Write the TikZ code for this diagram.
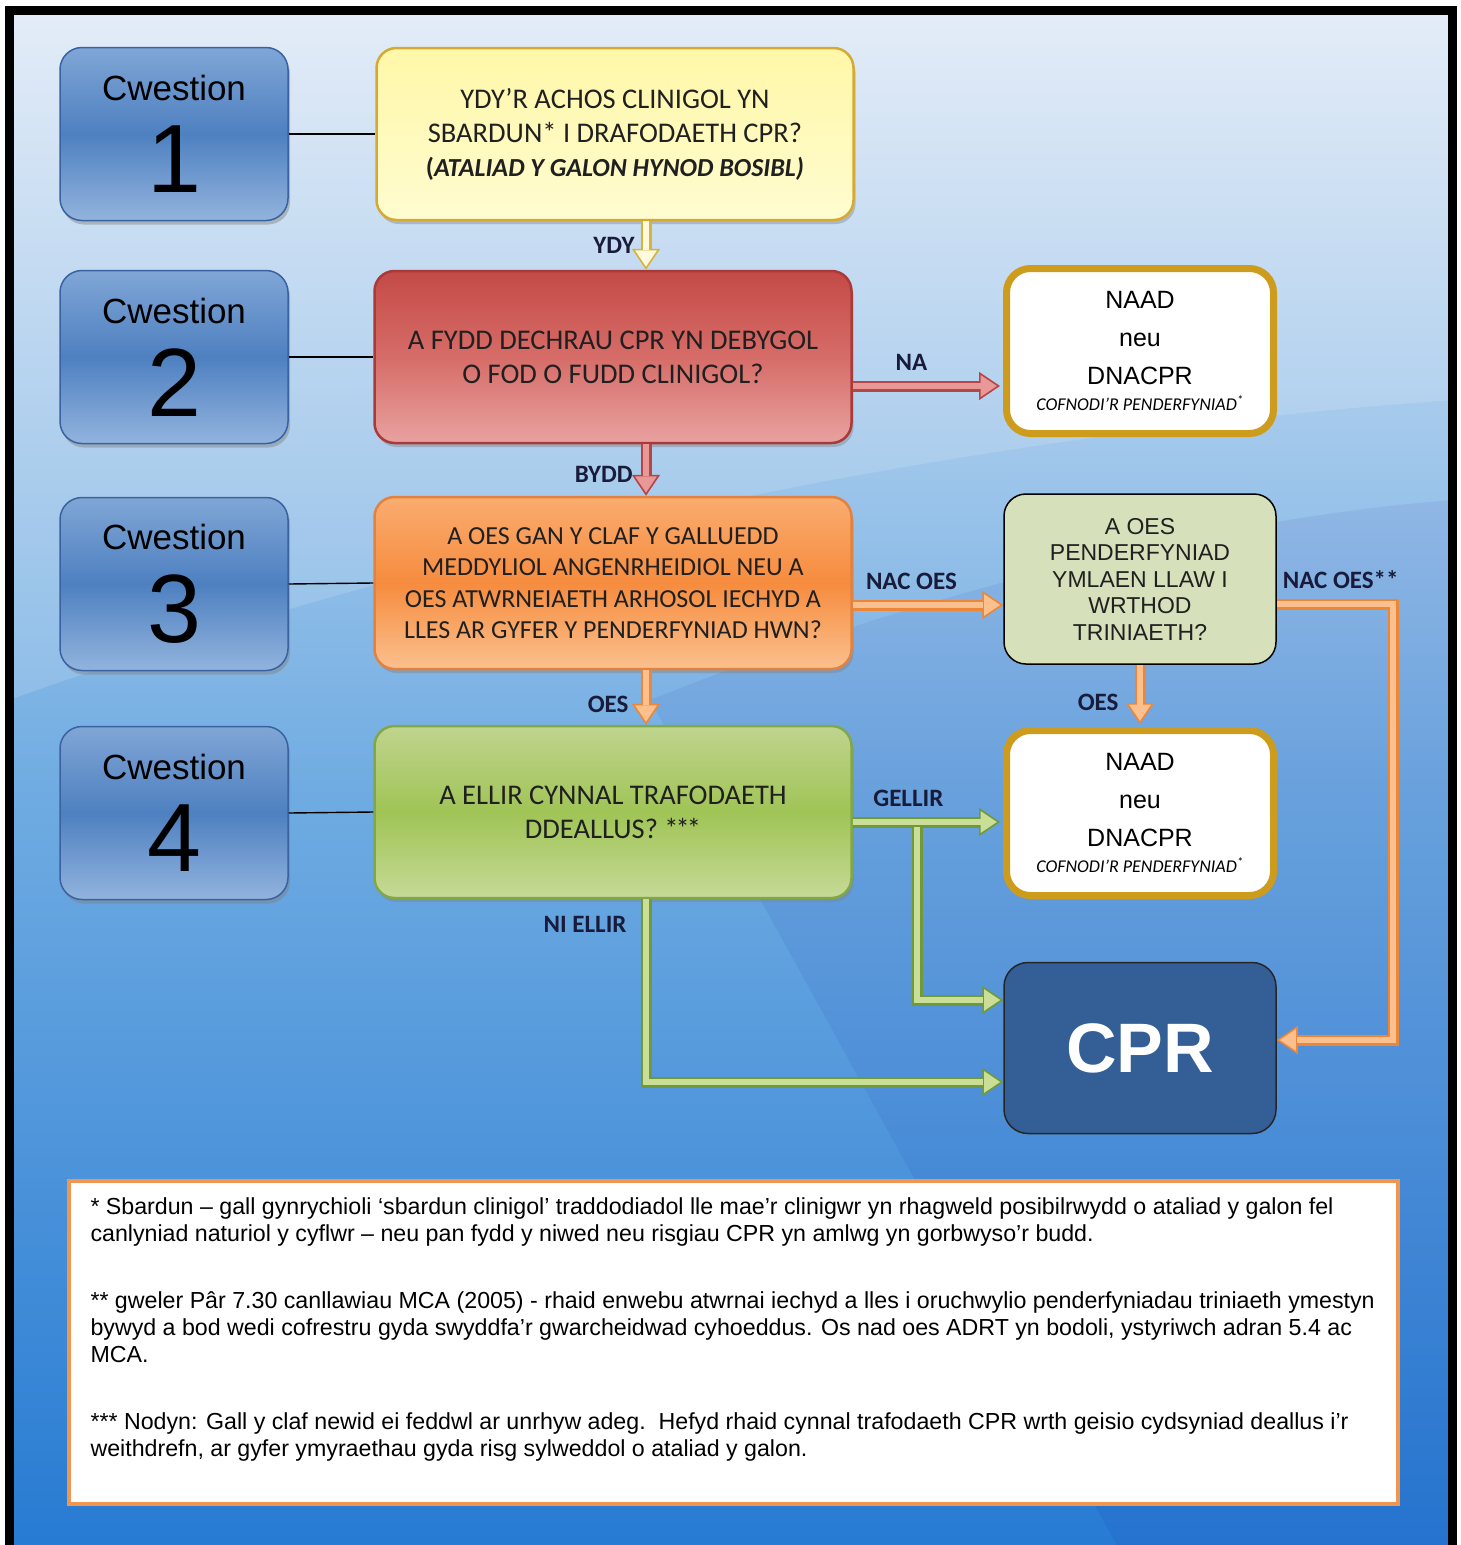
\documentclass[tikz,border=0pt]{standalone}
\usepackage{fontspec}
\setmainfont{Liberation Sans}
\newfontfamily\calfont{Carlito}
\usetikzlibrary{arrows.meta,shadows}

\definecolor{bgtop}{RGB}{224,234,247}
\definecolor{bgmid}{RGB}{112,172,226}
\definecolor{bgbot}{RGB}{38,122,210}
\definecolor{cwtop}{RGB}{128,166,214}
\definecolor{cwmid}{RGB}{78,128,192}
\definecolor{cwbot}{RGB}{146,180,222}
\definecolor{cwedge}{RGB}{58,98,160}
\definecolor{yeltop}{RGB}{255,247,168}
\definecolor{yelbot}{RGB}{255,252,208}
\definecolor{yeledge}{RGB}{214,170,50}
\definecolor{redtop}{RGB}{196,74,70}
\definecolor{redmid}{RGB}{214,108,104}
\definecolor{redbot}{RGB}{232,162,160}
\definecolor{rededge}{RGB}{170,58,58}
\definecolor{ortop}{RGB}{250,172,112}
\definecolor{ormid}{RGB}{246,140,62}
\definecolor{orbot}{RGB}{251,192,142}
\definecolor{oredge}{RGB}{226,130,62}
\definecolor{grtop}{RGB}{192,212,142}
\definecolor{grmid}{RGB}{160,196,86}
\definecolor{grbot}{RGB}{198,218,150}
\definecolor{gredge}{RGB}{128,168,70}
\definecolor{pendfill}{RGB}{214,224,186}
\definecolor{naadgold}{RGB}{206,156,28}
\definecolor{cprfill}{RGB}{52,94,150}
\definecolor{lblcol}{RGB}{24,28,58}
\definecolor{txtcol}{RGB}{32,32,32}
\definecolor{ydyline}{RGB}{214,180,56}
\definecolor{ydyfill}{RGB}{255,250,222}
\definecolor{redline}{RGB}{180,70,70}
\definecolor{redfill}{RGB}{232,152,150}
\definecolor{orline}{RGB}{236,134,56}
\definecolor{orfill}{RGB}{251,192,142}
\definecolor{grline}{RGB}{112,154,56}
\definecolor{grfill}{RGB}{202,222,152}
\definecolor{noteedge}{RGB}{240,150,80}

\begin{document}
\begin{tikzpicture}[x=1pt, y=-1pt, line width=1pt]
\tikzset{
	cwbox/.style={draw=cwedge, line width=1.5pt, rounded corners=22pt, minimum width=228pt, minimum height=173pt, align=center, top color=cwtop, bottom color=cwbot, middle color=cwmid, drop shadow={shadow xshift=2pt, shadow yshift=-4pt, opacity=0.45}},
	qbox/.style={line width=2.5pt, rounded corners=20pt, minimum width=477pt, minimum height=172pt, align=center, text=txtcol, font=\calfont\fontsize{28.5}{34}\selectfont, drop shadow={shadow xshift=2pt, shadow yshift=-4pt, opacity=0.4}},
	naadbox/.style={draw=naadgold, line width=7pt, fill=white, rounded corners=24pt, minimum width=267pt, minimum height=165pt, align=center, font=\fontsize{25}{38}\selectfont},
	lbl/.style={font=\calfont\bfseries\fontsize{25}{28}\selectfont, text=lblcol, inner sep=2pt},
	qline/.style={line width=1.4pt, draw=black},
	fatarrow/.style 2 args={line width=11pt, draw=#1, -{Triangle[length=21pt, width=28pt, fill=#2, line width=1.6pt]}, postaction={draw=#2, line width=6.5pt, -, shorten >=20pt}}
}

% background and frame
\useasboundingbox (0,0) rectangle (1461,1545);
\shade[top color=bgtop, bottom color=bgbot, middle color=bgmid] (9,10) rectangle (1452,1560);
\fill[white, opacity=0.14] (9,10) -- (9,700) .. controls (400,560) and (900,440) .. (1452,400) -- (1452,10) -- cycle;
\fill[blue!60!black, opacity=0.06] (650,700) .. controls (900,600) and (1200,520) .. (1452,500) -- (1452,1560) -- (1125,1560) -- cycle;
\draw[line width=9pt] (9,10) rectangle (1452,1560);

% question column
\node[cwbox] (c1) at (174,134) {\fontsize{35}{40}\selectfont Cwestion\\[24pt]\fontsize{97}{93}\selectfont 1};
\node[cwbox] (c2) at (174,357) {\fontsize{35}{40}\selectfont Cwestion\\[24pt]\fontsize{97}{93}\selectfont 2};
\node[cwbox] (c3) at (174,584) {\fontsize{35}{40}\selectfont Cwestion\\[24pt]\fontsize{97}{93}\selectfont 3};
\node[cwbox] (c4) at (174,813) {\fontsize{35}{40}\selectfont Cwestion\\[24pt]\fontsize{97}{93}\selectfont 4};

% questions
\node[qbox, draw=yeledge, top color=yeltop, bottom color=yelbot] (q1) at (615,134)
{YDY’R ACHOS CLINIGOL YN\\
SBARDUN* I DRAFODAETH CPR?\\
{\fontsize{26}{34}\selectfont\textbf{(\textit{ATALIAD Y GALON HYNOD BOSIBL)}}}};

\node[qbox, draw=rededge, top color=redtop, bottom color=redbot, middle color=redmid] (q2) at (613,357)
{A FYDD DECHRAU CPR YN DEBYGOL\\
O FOD O FUDD CLINIGOL?};

\node[qbox, draw=oredge, top color=ortop, bottom color=orbot, middle color=ormid, font=\calfont\fontsize{26}{31.5}\selectfont] (q3) at (613,583)
{A OES GAN Y CLAF Y GALLUEDD\\
MEDDYLIOL ANGENRHEIDIOL NEU A\\
OES ATWRNEIAETH ARHOSOL IECHYD A\\
LLES AR GYFER Y PENDERFYNIAD HWN?};

\node[qbox, draw=gredge, top color=grtop, bottom color=grbot, middle color=grmid] (q4) at (613,812)
{A ELLIR CYNNAL TRAFODAETH\\
DDEALLUS? *\kern-3pt*\kern-3pt*};

% outcomes
\node[naadbox] (naad1) at (1140,351)
{NAAD\\neu\\DNACPR\\[-12pt]{\calfont\itshape\fontsize{18}{18}\selectfont COFNODI’R PENDERFYNIAD\textsuperscript{*}}};

\node[draw=black, line width=1.5pt, fill=pendfill, rounded corners=22pt, minimum width=272pt, minimum height=170pt, align=center, font=\fontsize{23}{26.5}\selectfont, text=txtcol] (pend) at (1140,579)
{A OES\\PENDERFYNIAD\\YMLAEN LLAW I\\WRTHOD\\TRINIAETH?};

\node[naadbox] (naad2) at (1140,813)
{NAAD\\neu\\DNACPR\\[-12pt]{\calfont\itshape\fontsize{18}{18}\selectfont COFNODI’R PENDERFYNIAD\textsuperscript{*}}};

\node[draw=black!85, line width=1.5pt, fill=cprfill, rounded corners=24pt, minimum width=272pt, minimum height=171pt, text=white, font=\bfseries\fontsize{70}{70}\selectfont] (cpr) at (1140,1048) {CPR};

% question links
\draw[qline] (c1.east) -- (q1.west);
\draw[qline] (c2.east) -- (q2.west);
\draw[qline] (c3.east) -- (q3.west);
\draw[qline] (c4.east) -- (q4.west);

% decision arrows
\draw[fatarrow={ydyline}{ydyfill}] ([xshift=31pt]q1.south) -- node[lbl, left=4pt] (lydy) {YDY} ([xshift=33pt]q2.north);
\draw[fatarrow={redline}{redfill}] ([xshift=33pt]q2.south) -- node[lbl, left=6pt, pos=0.58] (lbydd) {BYDD} ([xshift=33pt]q3.north);
\draw[fatarrow={redline}{redfill}, shorten >=3pt] ([yshift=-29pt]q2.east) -- node[lbl, above=8pt, pos=0.39] (lna) {NA} ([yshift=-29pt]q2.east -| naad1.west);
\draw[fatarrow={orline}{orfill}] ([xshift=33pt]q3.south) -- node[lbl, left=10pt, pos=0.62] (loes) {OES} ([xshift=33pt]q4.north);
\draw[fatarrow={orline}{orfill}] ([yshift=-22pt]q3.east) -- node[lbl, above=8pt, pos=0.39] (lnacoes) {NAC OES} ([yshift=-22pt]q3.east -| pend.west);
\draw[fatarrow={orline}{orfill}, shorten >=3pt] (pend.south) -- node[lbl, left=14pt, pos=0.6] (loes2) {OES} (naad2.north);

\coordinate (rbend) at (1393,604);
\draw[fatarrow={orline}{orfill}] ([yshift=-25pt]pend.east) -- node[lbl, above=8pt, pos=0.55] (lnacoes2) {NAC OES**} (rbend) |- ([yshift=8pt]cpr.east);

\draw[fatarrow={grline}{grfill}, shorten >=3pt] ([yshift=-10pt]q4.east) -- node[lbl, above=8pt, pos=0.37] (lgellir) {GELLIR} ([yshift=-10pt]q4.east -| naad2.west);
\coordinate (gsplit) at (917,827);
\draw[fatarrow={grline}{grfill}] (gsplit) |- ([yshift=48pt]cpr.west);
\draw[fatarrow={grline}{grfill}] ([xshift=33pt]q4.south) |- node[lbl, left=12pt, pos=0.07] (lniellir) {NI ELLIR} ([yshift=-34pt]cpr.west);

% footnotes
\node[draw=noteedge, line width=4pt, fill=white, minimum width=1329pt, minimum height=323pt] (notes) at (733,1342) {};
\node[anchor=north west, align=left, inner sep=0pt, font=\fontsize{23.2}{27}\selectfont] (notetext) at (90,1197)
{* Sbardun – gall gynrychioli ‘sbardun clinigol’ traddodiadol lle mae’r clinigwr yn rhagweld posibilrwydd o ataliad y galon fel\\
canlyniad naturiol y cyflwr – neu pan fydd y niwed neu risgiau CPR yn amlwg yn gorbwyso’r budd.\\[40pt]
** gweler Pâr 7.30 canllawiau MCA (2005) - rhaid enwebu atwrnai iechyd a lles i oruchwylio penderfyniadau triniaeth ymestyn\\
bywyd a bod wedi cofrestru gyda swyddfa’r gwarcheidwad cyhoeddus. Os nad oes ADRT yn bodoli, ystyriwch adran 5.4 ac\\
MCA.\\[40pt]
*** Nodyn: Gall y claf newid ei feddwl ar unrhyw adeg.\ \ Hefyd rhaid cynnal trafodaeth CPR wrth geisio cydsyniad deallus i’r\\
weithdrefn, ar gyfer ymyraethau gyda risg sylweddol o ataliad y galon.};

\end{tikzpicture}
\end{document}
